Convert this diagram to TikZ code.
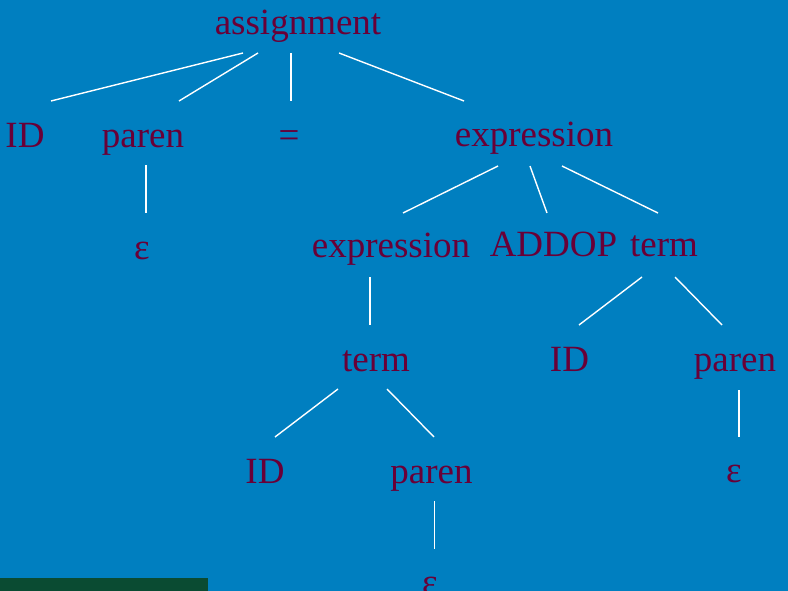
\documentclass[tikz,border=0pt]{standalone}
\usepackage{fontspec}
\setmainfont{Liberation Serif}
\usepackage{tikz}
\usetikzlibrary{calc}
\definecolor{slidebg}{RGB}{0,127,192}
\definecolor{wordred}{RGB}{105,0,55}
\definecolor{bargreen}{RGB}{10,75,50}

\begin{document}
\begin{tikzpicture}[x=1pt,y=-1pt,
    sym/.style={anchor=base,inner sep=0pt,text=wordred,font=\fontsize{37}{44}\selectfont},
    edge/.style={draw=white,line width=1.4pt}]
 			\fill[slidebg] (0,0) rectangle (788,591);
 			\clip (0,0) rectangle (788,591);
 			\fill[bargreen] (0,578) rectangle (208,591);
 			% row 1
 			\node[sym] (assign) at (298,35) {assignment};
 			% row 2
 			\node[sym] (id1) at (25,148) {ID};
 			\node[sym] (paren1) at (143,148) {paren};
 			\node[sym] (eq) at (289,148) {=};
 			\node[sym] (expr1) at (534,147) {expression};
 			% row 3
 			\node[sym] (eps1) at (142,259) {ε};
 			\node[sym] (expr2) at (391,258) {expression};
 			\node[sym] (addop) at (553.5,257) {ADDOP};
 			\node[sym] (term1) at (664,257) {term};
 			% row 4
 			\node[sym] (term2) at (376,371) {term};
 			\node[sym] (id2) at (569.5,371) {ID};
 			\node[sym] (paren2) at (735,371) {paren};
 			% row 5
 			\node[sym] (id3) at (265,483) {ID};
 			\node[sym] (paren3) at (431.5,483) {paren};
 			\node[sym] (eps2) at (734,482) {ε};
 			% row 6
 			\node[sym] (eps3) at (430,594) {ε};
 			% edges
 			\draw[edge] ($(assign.base)+(-55,18)$) -- ($(id1.base)+(26,-47)$);
 			\draw[edge] ($(assign.base)+(-40,18)$) -- ($(paren1.base)+(36,-47)$);
 			\draw[edge] ($(assign.base)+(-7,18)$) -- ($(eq.base)+(2,-47)$);
 			\draw[edge] ($(assign.base)+(41,18)$) -- ($(expr1.base)+(-70,-46)$);
 			\draw[edge] ($(paren1.base)+(3,17)$) -- ($(eps1.base)+(4,-46)$);
 			\draw[edge] ($(expr1.base)+(-36,19)$) -- ($(expr2.base)+(12,-45)$);
 			\draw[edge] ($(expr1.base)+(-4,19)$) -- ($(addop.base)+(-6.5,-44)$);
 			\draw[edge] ($(expr1.base)+(28,19)$) -- ($(term1.base)+(-6,-44)$);
 			\draw[edge] ($(expr2.base)+(-21,19)$) -- ($(term2.base)+(-6,-46)$);
 			\draw[edge] ($(term1.base)+(-22,20)$) -- ($(id2.base)+(9.5,-46)$);
 			\draw[edge] ($(term1.base)+(11,20)$) -- ($(paren2.base)+(-13,-46)$);
 			\draw[edge] ($(term2.base)+(-38,18)$) -- ($(id3.base)+(10,-46)$);
 			\draw[edge] ($(term2.base)+(11,18)$) -- ($(paren3.base)+(2.5,-46)$);
 			\draw[edge] ($(paren2.base)+(4,19)$) -- ($(eps2.base)+(5,-45)$);
 			\draw[edge] ($(paren3.base)+(3,18)$) -- ($(eps3.base)+(4.5,-45)$);
 		\end{tikzpicture}
\end{document}
